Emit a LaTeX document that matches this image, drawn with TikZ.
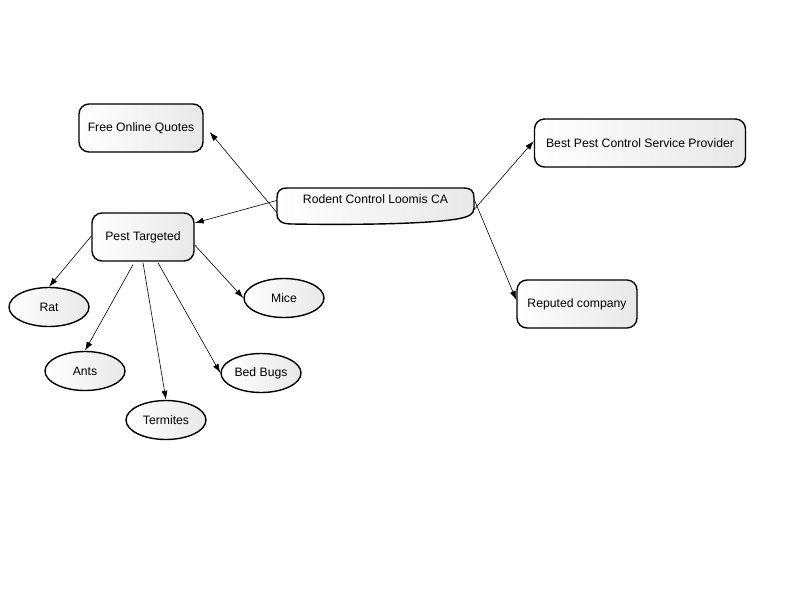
\documentclass[tikz,border=0pt]{standalone}
\usepackage{fontspec}
\setmainfont{Liberation Sans}
\usetikzlibrary{arrows.meta,shapes.geometric}

\tikzset{
  topic/.style={draw, line width=1.4pt, rounded corners=10pt, left color=white, right color=black!9,
    minimum height=48pt, inner sep=0pt},
  pest/.style={draw, ellipse, line width=1.4pt, left color=white, right color=black!9,
    minimum width=80pt, minimum height=39pt, inner sep=0pt},
  hubline/.style={draw, line width=1.4pt, left color=white, right color=black!9},
  hub/.style={minimum width=197pt, minimum height=37pt,
    text height=8pt, text depth=14pt, inner sep=0pt},
  link/.style={->, line width=0.6pt, >={Latex[length=9pt,width=6pt]}}
}

\begin{document}
\begin{tikzpicture}[x=1pt, y=-1pt, font=\fontsize{12.2}{14}\selectfont]
  \useasboundingbox (0,0) rectangle (800,600);

  % main topic, outline with a wavy bottom
  \coordinate (hubnw) at (277,188);
  \begin{scope}[shift={(hubnw)}]
    \path[hubline] (0,10) .. controls (0,3) and (3,0) .. (10,0) -- (187,0)
      .. controls (194,0) and (197,3) .. (197,10) -- (197,20)
      .. controls (197,26) and (192,29) .. (180,31)
      .. controls (150,36) and (80,37) .. (15,36)
      .. controls (5,36) and (0,33) .. (0,26) -- cycle;
  \end{scope}
  \node[hub] (rodent) at (375.5,206.5) {Rodent Control Loomis CA};

  \node[topic, minimum width=124pt] (quotes) at (141,128) {Free Online Quotes};
  \node[topic, minimum width=211pt] (best) at (640,143) {Best Pest Control Service Provider};
  \node[topic, minimum width=120pt] (reputed) at (577,304) {Reputed company};
  \node[topic, minimum width=102pt] (targeted) at (143,237) {Pest Targeted};

  % pests
  \node[pest] (rat) at (49,307) {Rat};
  \node[pest] (mice) at (284,298) {Mice};
  \node[pest] (ants) at (85,371) {Ants};
  \node[pest] (bedbugs) at (261,373) {Bed Bugs};
  \node[pest] (termites) at (166,420) {Termites};

  \path[link]
    ([yshift=-6pt]rodent.west) edge ([xshift=6pt,yshift=-4pt]quotes.east)
    ([yshift=6pt]rodent.west) edge ([yshift=14pt]targeted.east)
    ([yshift=-3pt]rodent.east) edge ([yshift=2pt]best.west)
    ([yshift=7pt]rodent.east) edge ([yshift=4pt]reputed.west);

  \path[link]
    ([yshift=1pt]targeted.west) edge (rat.north)
    ([xshift=-10pt,yshift=-3pt]targeted.south) edge (ants.north)
    ([yshift=-1pt]targeted.south) edge (termites.north)
    ([xshift=15pt,yshift=-1pt]targeted.south) edge (bedbugs.west)
    ([yshift=-8pt]targeted.east) edge (mice.west);
\end{tikzpicture}
\end{document}
